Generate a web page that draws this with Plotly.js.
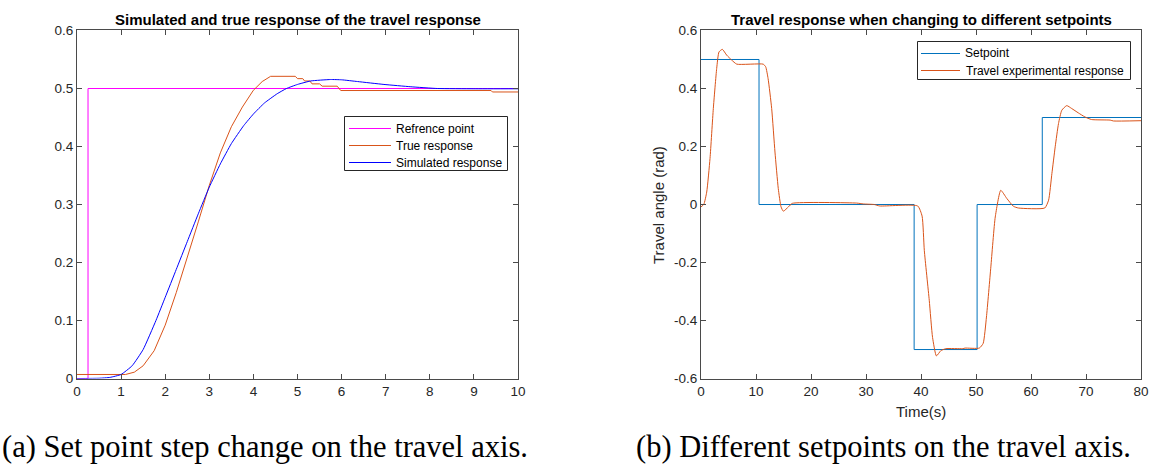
<!DOCTYPE html>
<html>
<head>
<meta charset="utf-8">
<script src="https://cdn.plot.ly/plotly-3.0.1.min.js"></script>
<style>
html,body{margin:0;padding:0;background:#fff;}
#chart{width:1154px;height:472px;}
</style>
</head>
<body>
<div id="chart"></div>
<script>
// ---------- Left panel: step response ----------
const refTime = [0, 0.25, 0.25, 10];
const refValue = [0, 0, 0.5, 0.5];

const trueTime = [0, 1.1, 1.3, 1.5, 1.75, 2.0, 2.25, 2.5, 2.75, 3.0, 3.25, 3.5, 3.75, 4.0, 4.2, 4.39, 4.95, 5.0, 5.12, 5.16, 5.28, 5.33, 5.5, 5.56, 5.9, 5.98, 9.39, 9.42, 10];
const trueValue = [0.007, 0.007, 0.011, 0.022, 0.048, 0.092, 0.148, 0.207, 0.27, 0.333, 0.389, 0.434, 0.468, 0.497, 0.512, 0.521, 0.521, 0.517, 0.517, 0.513, 0.513, 0.508, 0.508, 0.504, 0.504, 0.4965, 0.4965, 0.494, 0.494];

const simTime = [0, 0.5, 0.75, 1.0, 1.25, 1.5, 1.79, 2.0, 2.25, 2.5, 2.75, 3.0, 3.25, 3.5, 3.78, 4.0, 4.25, 4.54, 4.75, 5.0, 5.3, 5.75, 6.0, 6.36, 6.96, 7.57, 8.17, 9.0, 10];
const simValue = [0, 0.0005, 0.002, 0.007, 0.022, 0.05, 0.1, 0.14, 0.188, 0.236, 0.284, 0.33, 0.37, 0.405, 0.436, 0.456, 0.475, 0.491, 0.5, 0.507, 0.513, 0.5155, 0.515, 0.512, 0.507, 0.503, 0.5, 0.4995, 0.4995];

const leftXTicks = [0,1,2,3,4,5,6,7,8,9,10];
const leftYTicks = [0,0.1,0.2,0.3,0.4,0.5,0.6];
const leftYTickText = ['0','0.1','0.2','0.3','0.4','0.5','0.6'];
const leftLegendNames = ['Refrence point', 'True response', 'Simulated response'];

// ---------- Right panel: setpoint changes ----------
const spTime = [0, 10.55, 10.55, 38.75, 38.75, 50.2, 50.2, 62.05, 62.05, 80];
const spValue = [0.5, 0.5, 0, 0, -0.5, -0.5, 0, 0, 0.3, 0.3];

const expTime = [0, 0.5, 1.04, 1.64, 2.24, 2.85, 3.27, 3.88, 4.67, 5.58, 6.5, 11.3, 11.76, 12.2, 12.85, 13.45, 14.05, 14.55, 14.97, 15.9, 16.6, 28.3, 29.5, 31.5, 32.5, 39.4, 40.2, 40.6, 41.5, 42.1, 42.8, 43.6, 44.5, 47.6, 48.0, 50.6, 51.3, 51.9, 52.7, 53.5, 54.5, 55.6, 56.8, 57.7, 62.5, 63.2, 63.8, 64.4, 65.0, 65.6, 66.5, 67.4, 68.6, 69.8, 71.0, 74.4, 75, 80];
const expValue = [-0.008, 0.0, 0.043, 0.159, 0.331, 0.469, 0.526, 0.535, 0.515, 0.498, 0.484, 0.484, 0.475, 0.434, 0.331, 0.181, 0.055, -0.008, -0.023, -0.008, 0.004, 0.005, 0.002, 0.0, -0.005, -0.005, -0.04, -0.158, -0.33, -0.458, -0.522, -0.504, -0.497, -0.497, -0.495, -0.495, -0.479, -0.388, -0.215, -0.043, 0.049, 0.021, -0.006, -0.012, -0.012, 0.015, 0.107, 0.199, 0.279, 0.325, 0.341, 0.331, 0.316, 0.302, 0.293, 0.291, 0.288, 0.289];

const rightXTicks = [0,10,20,30,40,50,60,70,80];
const rightYTicks = [-0.6,-0.4,-0.2,0,0.2,0.4,0.6];
const rightYTickText = ['-0.6','-0.4','-0.2','0','0.2','0.4','0.6'];
const rightLegendNames = ['Setpoint', 'Travel experimental response'];

const AX = '#4a4a4a';
const TXT = '#262626';
const FONT = 'Liberation Sans, Arial, sans-serif';
const SERIF = 'Liberation Serif, Times New Roman, serif';
const W = 1154, H = 472;
const px = v => v / W;
const py = v => 1 - v / H;

const leftColors = ['#FF00FF', '#D95319', '#0000FF'];
const rightColors = ['#0072BD', '#D95319'];

const traces = [
  {x: refTime, y: refValue, type:'scatter', mode:'lines', name:leftLegendNames[0],
   line:{color:leftColors[0], width:1}, xaxis:'x', yaxis:'y'},
  {x: trueTime, y: trueValue, type:'scatter', mode:'lines', name:leftLegendNames[1],
   line:{color:leftColors[1], width:1}, xaxis:'x', yaxis:'y'},
  {x: simTime, y: simValue, type:'scatter', mode:'lines', name:leftLegendNames[2],
   line:{color:leftColors[2], width:1, shape:'spline', smoothing:0.4}, xaxis:'x', yaxis:'y'},
  {x: spTime, y: spValue, type:'scatter', mode:'lines', name:rightLegendNames[0],
   line:{color:rightColors[0], width:1}, xaxis:'x2', yaxis:'y2'},
  {x: expTime, y: expValue, type:'scatter', mode:'lines', name:rightLegendNames[1],
   line:{color:rightColors[1], width:1, shape:'spline', smoothing:0.5}, xaxis:'x2', yaxis:'y2'}
];

const axBase = {
  showline:true, linecolor:AX, linewidth:1, mirror:'ticks',
  ticks:'inside', ticklen:5, tickcolor:AX, tickwidth:1,
  showgrid:false, zeroline:false, fixedrange:true,
  tickfont:{family:FONT, size:13.5, color:TXT}
};
const yDom = [0.198, 0.9354];

// custom legends (boxes, sample lines, labels) in paper coordinates
const shapes = [];
const annotations = [];
function addLegend(box, lineX, textX, rowsY, names, colors) {
  shapes.push({type:'rect', xref:'paper', yref:'paper', x0:px(box[0]), x1:px(box[1]), y0:py(box[2]), y1:py(box[3]),
    line:{color:'#262626', width:1}, fillcolor:'#ffffff', layer:'above'});
  names.forEach((n, i) => {
    shapes.push({type:'line', xref:'paper', yref:'paper', x0:px(lineX[0]), x1:px(lineX[1]), y0:py(rowsY[i]), y1:py(rowsY[i]),
      line:{color:colors[i], width:1}, layer:'above'});
    annotations.push({text:n, xref:'paper', yref:'paper', x:px(textX), y:py(rowsY[i]), xanchor:'left', yanchor:'middle',
      showarrow:false, font:{family:FONT, size:12, color:'#000'}});
  });
}
addLegend([344.5, 507.5, 116.5, 170.5], [349, 391], 393.5, [128.5, 145.5, 162.5], leftLegendNames, leftColors);
addLegend([917.5, 1130.5, 41.5, 79.5], [921, 960], 963.5, [53.5, 70.5], rightLegendNames, rightColors);

annotations.push(
  {text:'<b>Simulated and true response of the travel response</b>', xref:'paper', yref:'paper',
   x:px(297.5), y:py(19), xanchor:'center', yanchor:'middle', showarrow:false,
   font:{family:FONT, size:15, color:'#000'}},
  {text:'<b>Travel response when changing to different setpoints</b>', xref:'paper', yref:'paper',
   x:px(921), y:py(19), xanchor:'center', yanchor:'middle', showarrow:false,
   font:{family:FONT, size:15, color:'#000'}},
  {text:'Time(s)', xref:'paper', yref:'paper', x:px(921), y:py(411),
   xanchor:'center', yanchor:'middle', showarrow:false, font:{family:FONT, size:15, color:TXT}},
  {text:'Travel angle (rad)', xref:'paper', yref:'paper', x:px(658), y:py(205),
   xanchor:'center', yanchor:'middle', textangle:-90, showarrow:false, font:{family:FONT, size:15, color:TXT}},
  {text:'(a) Set point step change on the travel axis.', xref:'paper', yref:'paper', x:0, y:py(447),
   xanchor:'left', yanchor:'middle', showarrow:false, font:{family:SERIF, size:30.5, color:'#000'}},
  {text:'(b) Different setpoints on the travel axis.', xref:'paper', yref:'paper', x:px(634), y:py(447),
   xanchor:'left', yanchor:'middle', showarrow:false, font:{family:SERIF, size:30.5, color:'#000'}}
);

const layout = {
  width:W, height:H,
  margin:{l:0, r:0, t:0, b:0},
  paper_bgcolor:'#ffffff', plot_bgcolor:'#ffffff',
  showlegend:false,
  xaxis: Object.assign({}, axBase, {domain:[77/W, 518/W], range:[0,10], tickvals:leftXTicks, anchor:'y'}),
  yaxis: Object.assign({}, axBase, {domain:yDom, range:[0,0.6], tickvals:leftYTicks, ticktext:leftYTickText, anchor:'x'}),
  xaxis2: Object.assign({}, axBase, {domain:[701/W, 1141/W], range:[0,80], tickvals:rightXTicks, anchor:'y2'}),
  yaxis2: Object.assign({}, axBase, {domain:yDom, range:[-0.6,0.6], tickvals:rightYTicks, ticktext:rightYTickText, anchor:'x2'}),
  shapes: shapes,
  annotations: annotations
};

Plotly.newPlot('chart', traces, layout, {staticPlot:true, displayModeBar:false});
</script>
</body>
</html>
